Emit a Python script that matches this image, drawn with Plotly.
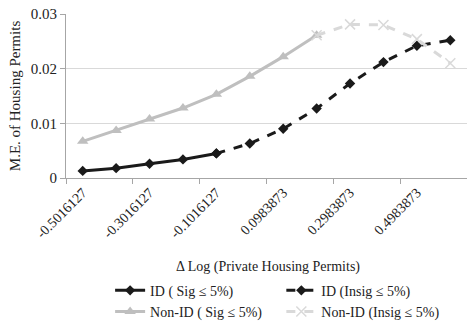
import plotly.graph_objects as go

# Change in log private housing permits (category points)
x_vals = [-0.5016127, -0.4016127, -0.3016127, -0.2016127, -0.1016127, -0.0016127,
          0.0983873, 0.1983873, 0.2983873, 0.3983873, 0.4983873, 0.5983873]
tick_labels = ["-0.5016127", "-0.3016127", "-0.1016127", "0.0983873", "0.2983873", "0.4983873"]

# Marginal effects of housing permits
id_sig = [0.0013, 0.0018, 0.0026, 0.0034, 0.0045, None, None, None, None, None, None, None]
id_insig = [None, None, None, None, 0.0045, 0.0063, 0.0090, 0.0127, 0.0173, 0.0212, 0.0242, 0.0252]
nonid_sig = [0.0067, 0.0087, 0.0108, 0.0128, 0.0153, 0.0186, 0.0222, 0.0261, None, None, None, None]
nonid_insig = [None, None, None, None, None, None, None, 0.0261, 0.0281, 0.0280, 0.0254, 0.0210]

FONT = "Liberation Serif, Times New Roman, serif"
BLACK = "#1a1a1a"
GRAY = "#bfbfbf"
LIGHT = "#d9d9d9"

fig = go.Figure()
fig.add_trace(go.Scatter(x=x_vals, y=id_sig, name="ID ( Sig \u2264 5%)", mode="lines+markers",
                         legend="legend",
                         line=dict(color=BLACK, width=3),
                         marker=dict(symbol="diamond", size=8, color=BLACK)))
fig.add_trace(go.Scatter(x=x_vals, y=id_insig, name="ID (Insig \u2264 5%)", mode="lines+markers",
                         legend="legend2",
                         line=dict(color=BLACK, width=3, dash="dash"),
                         marker=dict(symbol="diamond", size=8, color=BLACK)))
fig.add_trace(go.Scatter(x=x_vals, y=nonid_sig, name="Non-ID ( Sig \u2264 5%)", mode="lines+markers",
                         legend="legend",
                         line=dict(color=GRAY, width=3),
                         marker=dict(symbol="triangle-up", size=10, color=GRAY)))
fig.add_trace(go.Scatter(x=x_vals, y=nonid_insig, name="Non-ID (Insig \u2264 5%)", mode="lines+markers",
                         legend="legend2",
                         line=dict(color=LIGHT, width=3, dash="dash"),
                         marker=dict(symbol="x-thin-open", size=10, color=LIGHT,
                                     line=dict(color=LIGHT, width=1.5))))

legend_style = dict(orientation="v", yanchor="top", xanchor="left",
                    font=dict(family=FONT, size=14), tracegroupgap=0,
                    bgcolor="rgba(0,0,0,0)")

fig.update_layout(
    width=467, height=326,
    margin=dict(l=66, r=0, t=14, b=148, autoexpand=False),
    paper_bgcolor="white", plot_bgcolor="white",
    font=dict(family=FONT, size=14, color="#222222"),
    legend=dict(x=0.11, y=-0.59, **legend_style),
    legend2=dict(x=0.537, y=-0.59, **legend_style),
    annotations=[dict(text="\u0394 Log (Private Housing Permits)", xref="paper", yref="paper",
                      x=0.504, y=-0.545, xanchor="center", yanchor="middle", showarrow=False,
                      font=dict(family=FONT, size=14))],
)

fig.update_xaxes(
    range=[x_vals[0] - 0.05, x_vals[-1] + 0.05],
    tickmode="array", tickvals=x_vals[::2], ticktext=tick_labels, tickangle=-45,
    tickfont=dict(family=FONT, size=14),
    ticks="", showgrid=False, zeroline=False,
    showline=True, linecolor="#a6a6a6", linewidth=1,
    minor=dict(tick0=x_vals[0] - 0.05, dtick=0.2, ticks="outside", ticklen=5,
               tickcolor="#a6a6a6", showgrid=False),
)
fig.update_yaxes(
    range=[0, 0.03], tickvals=[0, 0.01, 0.02, 0.03], ticktext=["0", "0.01", "0.02", "0.03"],
    tickfont=dict(family=FONT, size=15),
    ticks="outside", ticklen=5, tickcolor="#a6a6a6",
    showgrid=True, gridcolor="#d9d9d9", gridwidth=1, zeroline=False,
    showline=True, linecolor="#a6a6a6", linewidth=1,
    title=dict(text="M.E. of Housing Permits", font=dict(family=FONT, size=15), standoff=6),
)

fig.write_html("out.html")
